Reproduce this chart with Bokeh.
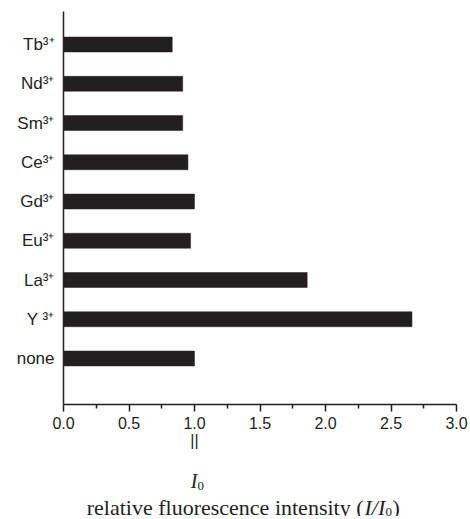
from bokeh.plotting import figure
from bokeh.models import ColumnDataSource, FixedTicker, Range1d, LinearAxis
from bokeh.layouts import column
from bokeh.core.properties import value
from bokeh.embed import file_html
from bokeh.resources import INLINE

# ---- data ----
ions = ["none", "Y", "La", "Eu", "Gd", "Ce", "Sm", "Nd", "Tb"]
charges = ["", " ³⁺", "³⁺", "³⁺", "³⁺", "³⁺", "³⁺", "³⁺", "³⁺"]
intensity = [1.00, 2.66, 1.86, 0.97, 1.00, 0.95, 0.91, 0.91, 0.83]
x_ticks = [0.0, 0.5, 1.0, 1.5, 2.0, 2.5, 3.0]
x_minor = [0.25, 0.75, 1.25, 1.75, 2.25, 2.75]
reference_value = 1.0  # I0 (no added ion)

INK = "#231f20"
SANS = "Liberation Sans"
SERIF = "Liberation Serif"

pos = list(range(len(ions)))
src = ColumnDataSource(dict(y=pos, val=intensity))

p = figure(frame_width=393, frame_height=393,
           min_border_left=63, min_border_top=11, min_border_right=12,
           min_border_bottom=52,
           x_range=Range1d(0, 3.0), y_range=Range1d(-1.172, 8.841),
           output_backend="svg", toolbar_location=None)
p.outline_line_color = None
p.grid.visible = False

p.hbar(y="y", left=0, right="val", height=0.38, source=src,
       fill_color=INK, line_color=INK, line_width=0.5)

# x axis
xa = p.xaxis[0]
xa.ticker = FixedTicker(ticks=x_ticks, minor_ticks=x_minor)
xa.major_label_overrides = {t: f"{t:.1f}" for t in x_ticks}
xa.axis_line_color = INK
xa.axis_line_width = 1.5
xa.major_tick_line_color = INK
xa.major_tick_line_width = 1.5
xa.major_tick_in = 0
xa.major_tick_out = 7
xa.minor_tick_line_color = INK
xa.minor_tick_line_width = 1.5
xa.minor_tick_in = 0
xa.minor_tick_out = 4
xa.major_label_standoff = 5
xa.major_label_text_font = SANS
xa.major_label_text_font_size = "16px"
xa.major_label_text_color = INK

# second axis row: "||" under the I0 reference value
eq = LinearAxis(ticker=FixedTicker(ticks=[reference_value]),
                major_label_overrides={reference_value: "||"},
                axis_line_color=None, major_tick_line_color=None,
                minor_tick_line_color=None, major_tick_out=0,
                major_tick_in=0, major_label_standoff=0,
                major_label_text_font=SANS,
                major_label_text_font_size="16px",
                major_label_text_color=INK)
p.add_layout(eq, "below")

# y axis: line + ion labels
ya = p.yaxis[0]
ya.ticker = FixedTicker(ticks=pos)
ya.major_label_overrides = {i: ions[i] + charges[i] for i in pos}
ya.axis_line_color = INK
ya.axis_line_width = 1.5
ya.major_tick_line_color = None
ya.major_tick_in = 0
ya.major_tick_out = 0
ya.minor_tick_line_color = None
ya.major_label_standoff = 9
ya.major_label_text_font = SANS
ya.major_label_text_font_size = "17px"
ya.major_label_text_color = INK

# ---- lower panel: I0 and axis title, sharing the x scale ----
H = 60
q = figure(frame_width=393, frame_height=H,
           min_border_left=63, min_border_top=0, min_border_right=12,
           min_border_bottom=0,
           x_range=p.x_range, y_range=Range1d(H, 0),
           x_axis_location=None, y_axis_location=None,
           output_backend="svg", toolbar_location=None)
q.outline_line_color = None
q.grid.visible = False

q.text(x=[reference_value], y=[24], text=["I"], x_offset=3,
       text_align="right", text_baseline="alphabetic",
       text_font=value(SERIF), text_font_style="italic",
       text_font_size="20px", text_color=INK)
q.text(x=[reference_value], y=[29], text=["0"], x_offset=3,
       text_align="left", text_baseline="alphabetic",
       text_font=value(SERIF), text_font_size="13px", text_color=INK)

# title: relative fluorescence intensity (I/I0)
ax = [2.29]
ty = 51
q.text(x=ax, y=[ty], text=["relative fluorescence intensity ("],
       text_align="right", text_baseline="alphabetic",
       text_font=value(SERIF), text_font_size="22px", text_color=INK)
q.text(x=ax, y=[ty], text=["I/I"], x_offset=1,
       text_align="left", text_baseline="alphabetic",
       text_font=value(SERIF), text_font_style="italic",
       text_font_size="22px", text_color=INK)
q.text(x=ax, y=[ty + 4], text=["0"], x_offset=22,
       text_align="left", text_baseline="alphabetic",
       text_font=value(SERIF), text_font_size="13px", text_color=INK)
q.text(x=ax, y=[ty], text=[")"], x_offset=29,
       text_align="left", text_baseline="alphabetic",
       text_font=value(SERIF), text_font_size="22px", text_color=INK)

layout = column(p, q, spacing=0)
open("out.html", "w").write(file_html(layout, INLINE))
